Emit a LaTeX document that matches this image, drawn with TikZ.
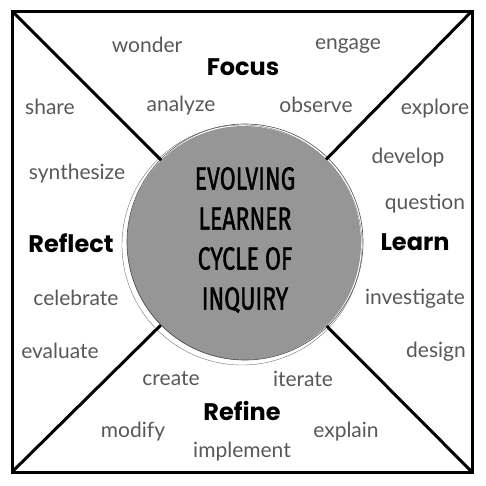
\documentclass[tikz,border=0pt]{standalone}
\usepackage{fontspec}
\setmainfont{Lato}
\newfontfamily\headfont{Poppins}
\newfontfamily\handfont[FakeBold=1.6]{Fira Sans}
\definecolor{wordgray}{RGB}{88,88,88}
\definecolor{discgray}{RGB}{150,150,150}

\begin{document}
\begin{tikzpicture}
[x=1pt,y=-1pt,word/.style = {text = wordgray, font = \fontsize{21}{23}\selectfont},
head/.style = {font = \headfont\bfseries\fontsize{24}{26}\selectfont},]

\useasboundingbox (0,0) rectangle (486,485);
\def\rad{117}
\coordinate (TL) at (12,11);
\coordinate (TR) at (472,11);
\coordinate (BR) at (472,472);
\coordinate (BL) at (12,472);
\draw [line width=3pt] (TL) rectangle (BR);

\node (C) at (244,243)[circle, fill = discgray, minimum size = 2*\rad, inner sep = 0pt] {};
\draw [black!70, line width=.6pt] (245,242) circle (\rad+1);
\draw [black!55, line width=.4pt] (242,245) circle (\rad+3);
\draw [line width=3pt] (TL)--(C);
\draw [line width=3pt] (TR)--(C);
\draw [line width=3pt] (BR)--(C);
\draw [line width=3pt] (BL)--(C);

\node (title) at (245,240)[xscale=.72, align=center, font = \handfont\fontsize{32}{40}\selectfont] {EVOLVING\\LEARNER\\CYCLE OF\\INQUIRY};

%\node [head] at (243,67){Focus};
\node (focus) at (243,67)[head] {Focus};
\node (learn) at (415,242)[head] {Learn};
\node (refine) at (242,411)[head] {Refine};
\node (reflect) at (71,243)[head] {Reflect};

\node (wonder) at (147,45)[word] {wonder};
\node (engage) at (348,46)[word] {engage};
\node (share) at (50,107)[word] {share};
\node (analyze) at (181,106)[word] {analyze};
\node (observe) at (316,105)[word] {observe};
\node (explore) at (435,109)[word] {explore};
\node (develop) at (408,158)[word] {develop};
\node (synthesize) at (77,174)[word] {synthesize};
\node (question) at (425,204)[word] {question};
\node (celebrate) at (76,298)[word] {celebrate};
\node (investigate) at (415,299)[word] {investigate};
\node (evaluate) at (60,351)[word] {evaluate};
\node (design) at (436,352)[word] {design};
\node (create) at (171,379)[word] {create};
\node (iterate) at (303,379)[word] {iterate};
\node (modify) at (133,432)[word] {modify};
\node (explain) at (346,432)[word] {explain};
\node (implement) at (242,452)[word] {implement};

\end{tikzpicture}
\end{document}
